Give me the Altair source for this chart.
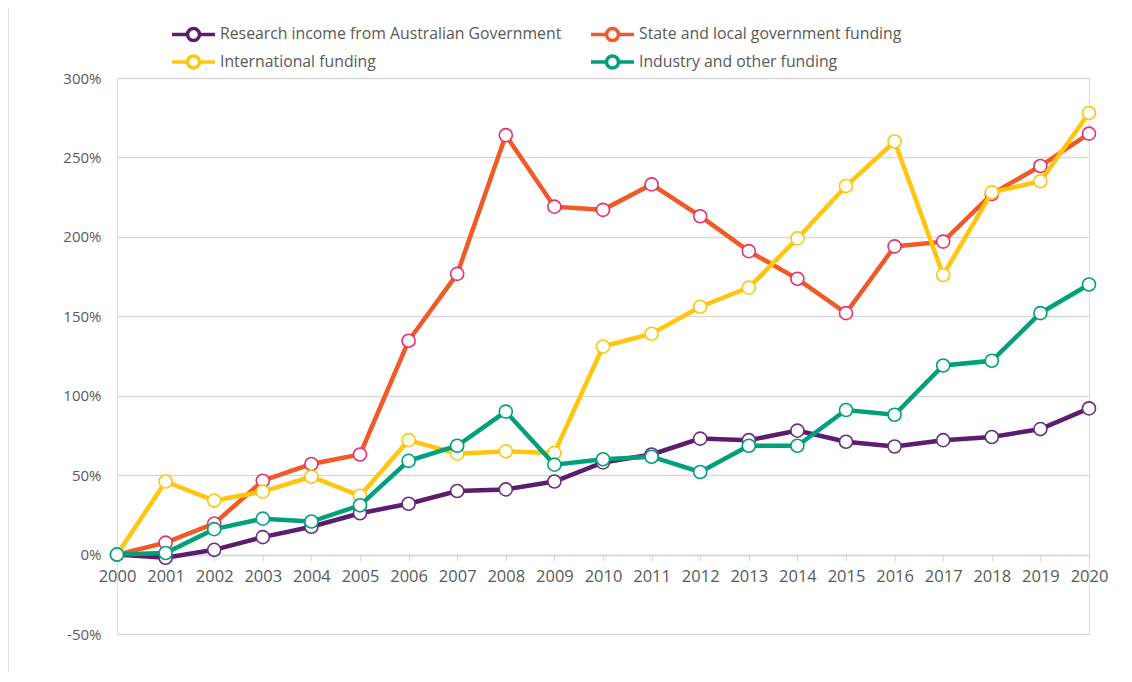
import altair as alt
import pandas as pd

years = list(range(2000, 2021))
series_names = [
    "Research income from Australian Government",
    "State and local government funding",
    "International funding",
    "Industry and other funding",
]
aus_gov = [0, -2, 3, 11, 17.5, 26, 32, 40, 41, 46, 58, 63, 73, 72, 78, 71, 68, 72, 74, 79, 92]
state_local = [0, 7.5, 19.5, 46.5, 57, 63, 134.6, 176.7, 264, 219, 217, 233, 213, 191, 173.6, 152, 194, 197, 227, 244.6, 265]
international = [0, 46, 34, 39.6, 49, 37, 72, 63.5, 65, 64, 131, 139, 156, 168, 199, 232, 260, 176, 228, 235, 278]
industry = [0, 1, 16, 22.6, 20.8, 31, 59, 68.5, 90, 56.6, 60, 61.6, 52, 68.5, 68.5, 91, 88, 119, 122, 152, 170]
line_colors = ["#5B1E6E", "#F05A28", "#FFC50F", "#00A07B"]
marker_colors = ["#6B2C80", "#E8306A", "#FFC50F", "#00A07B"]
y_ticks = [-50, 0, 50, 100, 150, 200, 250, 300]

all_values = [aus_gov, state_local, international, industry]
rows = []
for name, vals in zip(series_names, all_values):
    for yr, v in zip(years, vals):
        rows.append({"year": yr, "series": name, "value": v / 100.0})
df = pd.DataFrame(rows)

W, H = 972, 556
FONT = "Open Sans"
GREY = "#595959"

x_enc = alt.X(
    "year:Q",
    scale=alt.Scale(domain=[2000, 2020], nice=False, zero=False),
    axis=alt.Axis(
        values=years, format="d", title=None, grid=False,
        domainColor="#d9d9d9", domainWidth=1.5, tickColor="#d9d9d9", tickSize=6,
        labelColor=GREY, labelFont=FONT, labelFontSize=16.5, labelPadding=7,
        offset=-79, labelFlush=False,
    ),
)
y_enc = alt.Y(
    "value:Q",
    scale=alt.Scale(domain=[-0.5, 3.0], nice=False),
    axis=alt.Axis(
        values=[t / 100.0 for t in y_ticks], format=".0%", title=None,
        labelExpr="replace(datum.label, '\u2212', '-')",
        domain=False, ticks=False, gridColor="#d9d9d9", gridWidth=1.5,
        labelColor=GREY, labelFont=FONT, labelFontSize=15, labelPadding=16,
    ),
)

color_scale = alt.Scale(domain=series_names, range=line_colors)
legend = alt.Legend(
    title=None, orient="none", legendX=53 + 14.5, legendY=-53, columns=2, direction="horizontal",
    columnPadding=22, rowPadding=0,
    labelFont=FONT, labelFontSize=15.8, labelColor=GREY, labelLimit=0, labelOffset=3 + 14.5,
    symbolType="M-3.04,0L-0.85,0M0.85,0L3.04,0M0.85,0A0.85,0.85 0 1,1 -0.85,0A0.85,0.85 0 1,1 0.85,0Z",
    symbolSize=200, symbolStrokeWidth=3.5, symbolFillColor="white",
)

base = alt.Chart(df)
layers = []
border = base.mark_rule(color="#d9d9d9", strokeWidth=1.5).encode(
    x=alt.value(-109), y=alt.value(-90), y2=alt.value(H + 60)
).transform_filter(alt.datum.year == 2000).transform_filter(
    alt.datum.series == series_names[0]
)
layers.append(border)
for name, mcol in zip(series_names, marker_colors):
    sub = base.transform_filter(alt.datum.series == name)
    line = sub.mark_line(strokeWidth=4.5).encode(
        x=x_enc, y=y_enc,
        color=alt.Color("series:N", scale=color_scale, legend=legend, sort=series_names),
    )
    pts = sub.mark_point(filled=True, fill="white", stroke=mcol, strokeWidth=1.6, size=170, opacity=1).encode(
        x=x_enc, y=y_enc,
    )
    layers += [line, pts]

chart = alt.layer(*layers).properties(
    width=W, height=H,
    autosize=alt.AutoSizeParams(type="none"),
    padding={"left": 109, "top": 70, "right": 25, "bottom": 38},
).configure_view(strokeWidth=0).configure(background="white")

chart.save("out.html", embed_options={"renderer": "svg", "actions": False})
